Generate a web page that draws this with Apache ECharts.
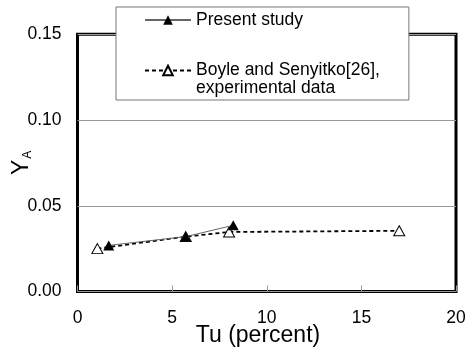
<!DOCTYPE html>
<html><head><meta charset="utf-8">
<script src="https://cdn.jsdelivr.net/npm/echarts@6/dist/echarts.min.js"></script>
<style>html,body{margin:0;padding:0;background:#fff}#c{width:467px;height:351px}</style>
</head><body><div id="c"></div>
<script>
// ---- data ----
const xTicks = [0, 5, 10, 15, 20];
const yTicks = [0.00, 0.05, 0.10, 0.15];
const presentTu = [1.65, 5.72, 8.23];
const presentYA = [0.0269, 0.0320, 0.0386];
const boyleTu = [1.05, 5.72, 8.01, 17.0];
const boyleYA = [0.0250, 0.0320, 0.0347, 0.0354];
const seriesNames = ['Present study', 'Boyle and Senyitko[26], experimental data'];
const legendLabels = ['Present study', '\nBoyle and Senyitko[26],\nexperimental data'];
const xTitle = 'Tu (percent)';
const yTitleMain = 'Y';
const yTitleSub = 'A';

const FF = "'Liberation Sans', Arial, Helvetica, sans-serif";
const pair = (xs, ys) => xs.map((x, i) => [x, ys[i]]);

const chart = echarts.init(document.getElementById('c'), null, {renderer: 'canvas'});
chart.setOption({
  animation: false,
  backgroundColor: '#fff',
  textStyle: {fontFamily: FF},
  grid: {left: 77.5, right: 11, top: 34.3, bottom: 59.5, show: true,
         outerBoundsMode: 'none', containLabel: false,
         borderColor: '#000', borderWidth: 3, backgroundColor: 'transparent'},
  legend: {
    orient: 'vertical', left: 116, top: 7,
    padding: [4, 29, 2.5, 28], itemGap: 14.5,
    itemWidth: 46, itemHeight: 12,
    backgroundColor: '#fff', borderColor: '#777', borderWidth: 1,
    textStyle: {fontFamily: FF, fontSize: 17.5, color: '#000', lineHeight: 18},
    formatter: n => legendLabels[seriesNames.indexOf(n)],
    data: [seriesNames[0], seriesNames[1]]
  },
  xAxis: {
    type: 'value', min: xTicks[0], max: xTicks[xTicks.length - 1], interval: 5,
    name: xTitle, nameLocation: 'middle', nameGap: 32.5, nameMoveOverlap: false,
    nameTextStyle: {fontFamily: FF, fontSize: 23, color: '#000', padding: [0, 17.5, 0, 0]},
    axisLine: {show: false},
    axisTick: {show: true, inside: true, length: 6, lineStyle: {color: '#999', width: 1}},
    axisLabel: {fontFamily: FF, fontSize: 17.5, color: '#000', margin: 18},
    splitLine: {show: false}
  },
  yAxis: {
    type: 'value', min: yTicks[0], max: yTicks[yTicks.length - 1], interval: 0.05,
    name: '{y|' + yTitleMain + '}{a|' + yTitleSub + '}',
    nameLocation: 'middle', nameGap: 44, nameMoveOverlap: false,
    nameTextStyle: {
      rich: {
        y: {fontFamily: FF, fontSize: 23, color: '#000', verticalAlign: 'bottom'},
        a: {fontFamily: FF, fontSize: 12, color: '#000', verticalAlign: 'bottom', padding: [0, 0, 0, 1]}
      }
    },
    axisLine: {show: false},
    axisTick: {show: false},
    axisLabel: {fontFamily: FF, fontSize: 17.5, color: '#000', margin: 16,
                formatter: v => v.toFixed(2)},
    splitLine: {show: true, lineStyle: {color: '#999', width: 1}}
  },
  series: [
    {
      name: seriesNames[0], type: 'line', z: 4,
      data: pair(presentTu, presentYA),
      symbol: 'triangle', symbolSize: [11, 10],
      itemStyle: {color: '#000', borderColor: '#000', borderWidth: 0},
      lineStyle: {color: '#666', width: 1, type: 'solid'}
    },
    {
      name: seriesNames[1], type: 'line', z: 3,
      data: pair(boyleTu, boyleYA),
      symbol: 'triangle', symbolSize: [11, 10],
      itemStyle: {color: '#fff', borderColor: '#000', borderWidth: 1},
      lineStyle: {color: '#000', width: 1.8, type: [4, 3]}
    }
  ]
});
</script></body></html>
